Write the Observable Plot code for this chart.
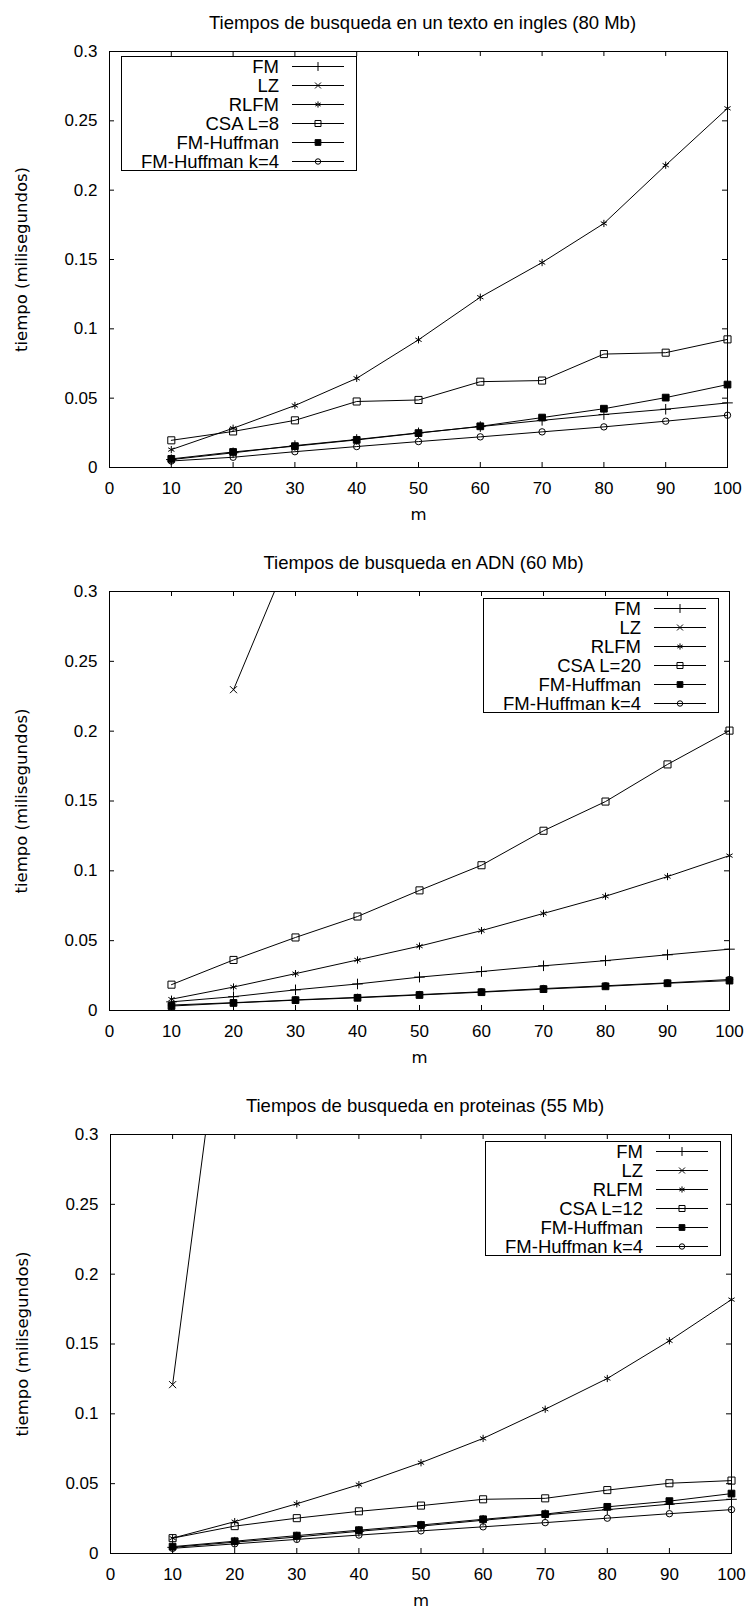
<!DOCTYPE html>
<html><head><meta charset="utf-8">
<script src="https://cdn.jsdelivr.net/npm/d3@7"></script>
<script src="https://cdn.jsdelivr.net/npm/@observablehq/plot@0.6"></script>
<style>
html,body{margin:0;padding:0;background:#fff;}
#chart svg{display:block;}
</style></head><body><div id="chart"></div>
<script>
// ---- shared axes ----
const m = [10, 20, 30, 40, 50, 60, 70, 80, 90, 100];
const xTicks = [0, 10, 20, 30, 40, 50, 60, 70, 80, 90, 100];
const xTickLabels = ["0", "10", "20", "30", "40", "50", "60", "70", "80", "90", "100"];
const yTicks = [0, 0.05, 0.1, 0.15, 0.2, 0.25, 0.3];
const yTickLabels = ["0", "0.05", "0.1", "0.15", "0.2", "0.25", "0.3"];
const xLabel = "m";
const yLabel = "tiempo (milisegundos)";

const titles = [
  "Tiempos de busqueda en un texto en ingles (80 Mb)",
  "Tiempos de busqueda en ADN (60 Mb)",
  "Tiempos de busqueda en proteinas (55 Mb)"
];
const seriesKeys = ["FM", "LZ", "RLFM", "CSA", "FM-Huffman", "FM-Huffman k=4"];
const csaLabels = ["CSA L=8", "CSA L=20", "CSA L=12"];

// ---- panel 1: texto en ingles ----
const ing_FM   = [0.0057, 0.0106, 0.0158, 0.0202, 0.0250, 0.0295, 0.0340, 0.0382, 0.0420, 0.0466];
const ing_LZ   = [null, null, null, null, null, null, null, null, null, null];
const ing_RLFM = [0.0129, 0.0283, 0.0447, 0.0643, 0.0921, 0.1228, 0.1478, 0.1760, 0.2180, 0.2590];
const ing_CSA  = [0.0196, 0.0260, 0.0340, 0.0476, 0.0487, 0.0619, 0.0627, 0.0818, 0.0828, 0.0924];
const ing_FMH  = [0.0062, 0.0112, 0.0154, 0.0199, 0.0248, 0.0297, 0.0360, 0.0424, 0.0504, 0.0598];
const ing_FMH4 = [0.0047, 0.0074, 0.0114, 0.0151, 0.0187, 0.0221, 0.0257, 0.0293, 0.0334, 0.0377];

// ---- panel 2: ADN ----
const adn_FM   = [0.0062, 0.0099, 0.0148, 0.0190, 0.0239, 0.0279, 0.0320, 0.0357, 0.0399, 0.0439];
const adn_LZ   = [null, 0.2297, 0.336, null, null, null, null, null, null, null];
const adn_RLFM = [0.0081, 0.0168, 0.0264, 0.0362, 0.0461, 0.0572, 0.0695, 0.0818, 0.0959, 0.1109];
const adn_CSA  = [0.0185, 0.0362, 0.0523, 0.0673, 0.0860, 0.1040, 0.1287, 0.1496, 0.1762, 0.2004];
const adn_FMH  = [0.0032, 0.0054, 0.0074, 0.0091, 0.0111, 0.0131, 0.0153, 0.0173, 0.0195, 0.0214];
const adn_FMH4 = [0.0039, 0.0056, 0.0076, 0.0094, 0.0114, 0.0134, 0.0157, 0.0177, 0.0198, 0.0222];

// ---- panel 3: proteinas ----
const pro_FM   = [0.0044, 0.0081, 0.0118, 0.0159, 0.0196, 0.0238, 0.0277, 0.0314, 0.0353, 0.0388];
const pro_LZ   = [0.1209, 0.46, null, null, null, null, null, null, null, null];
const pro_RLFM = [0.0110, 0.0228, 0.0356, 0.0493, 0.0650, 0.0824, 0.1033, 0.1253, 0.1523, 0.1818];
const pro_CSA  = [0.0110, 0.0196, 0.0253, 0.0302, 0.0343, 0.0388, 0.0395, 0.0454, 0.0503, 0.0522];
const pro_FMH  = [0.0049, 0.0088, 0.0128, 0.0167, 0.0204, 0.0245, 0.0282, 0.0334, 0.0375, 0.0429];
const pro_FMH4 = [0.0037, 0.0069, 0.0101, 0.0132, 0.0162, 0.0191, 0.0221, 0.0253, 0.0285, 0.0314];

const panelSeries = [
  [ing_FM, ing_LZ, ing_RLFM, ing_CSA, ing_FMH, ing_FMH4],
  [adn_FM, adn_LZ, adn_RLFM, adn_CSA, adn_FMH, adn_FMH4],
  [pro_FM, pro_LZ, pro_RLFM, pro_CSA, pro_FMH, pro_FMH4]
];

// ---- styling ----
const styles = {
  "FM":             {symbol: "plus",     d3s: d3.symbolPlus,     r: 3.5, fill: "none",  stroke: "black"},
  "LZ":             {symbol: "times",    d3s: d3.symbolTimes,    r: 3.3, fill: "none",  stroke: "black"},
  "RLFM":           {symbol: "asterisk", d3s: d3.symbolAsterisk, r: 3.4, fill: "none",  stroke: "black"},
  "CSA":            {symbol: "square2",  d3s: d3.symbolSquare2,  r: 4.5, fill: "none",  stroke: "black"},
  "FM-Huffman":     {symbol: "square",   d3s: d3.symbolSquare,   r: 3.8, fill: "black", stroke: "black"},
  "FM-Huffman k=4": {symbol: "circle",   d3s: d3.symbolCircle,   r: 3.2, fill: "none",  stroke: "black"}
};
const layouts = [
  {height: 536, marginTop: 51, marginBottom: 69, marginLeft: 109, marginRight: 23, legend: "left"},
  {height: 542, marginTop: 55, marginBottom: 68, marginLeft: 109, marginRight: 21, legend: "right"},
  {height: 531, marginTop: 56, marginBottom: 56, marginLeft: 110, marginRight: 19, legend: "right"}
];

function legendMark(labels, anchor) {
  return (index, scales, values, dim) => {
    const g = d3.create("svg:g");
    const boxW = 235, boxH = 114;
    const left = anchor === "left" ? dim.marginLeft + 12 : dim.width - dim.marginRight - 11 - boxW;
    const top = dim.marginTop + (anchor === "left" ? 5 : 7);
    g.append("rect")
      .attr("x", Math.round(left) + 0.5).attr("y", Math.round(top) + 0.5)
      .attr("width", boxW).attr("height", boxH)
      .attr("fill", "none").attr("stroke", "black").attr("stroke-width", 1);
    labels.forEach((lab, i) => {
      const st = styles[seriesKeys[i]];
      const y = top + 10.5 + i * 19;
      g.append("text")
        .attr("x", left + 158).attr("y", y).attr("dy", "0.36em")
        .attr("text-anchor", "end").attr("font-size", 18.5)
        .attr("fill", "black").text(lab);
      g.append("line")
        .attr("x1", left + 171).attr("x2", left + 223)
        .attr("y1", y).attr("y2", y)
        .attr("stroke", "black").attr("stroke-width", 1);
      const rr = st.r * 0.85;
      g.append("path")
        .attr("transform", `translate(${left + 197},${y})`)
        .attr("d", d3.symbol(st.d3s, Math.PI * rr * rr)())
        .attr("fill", st.fill).attr("stroke", st.stroke).attr("stroke-width", 1);
    });
    return g.node();
  };
}

const chart = document.getElementById("chart");

layouts.forEach((L, p) => {
  const plotW = 750 - L.marginLeft - L.marginRight;
  const plotH = L.height - L.marginTop - L.marginBottom;
  const labels = seriesKeys.map((k, i) => k === "CSA" ? csaLabels[p] : k);
  const marks = [];
  seriesKeys.forEach((key, i) => {
    const vals = panelSeries[p][i];
    const data = m.map((x, j) => ({m: x, t: vals[j]}));
    const st = styles[key];
    const clip = key === "LZ";
    marks.push(Plot.line(data, {x: "m", y: "t", stroke: "black", strokeWidth: 1, clip}));
    marks.push(Plot.dot(data, {x: "m", y: "t", symbol: st.symbol, r: st.r, fill: st.fill, stroke: st.stroke, strokeWidth: 1, clip}));
  });
  const svg = Plot.plot({
    width: 750,
    height: L.height,
    marginTop: L.marginTop,
    marginBottom: L.marginBottom,
    marginLeft: L.marginLeft,
    marginRight: L.marginRight,
    style: {fontFamily: "'Liberation Sans', Arial, sans-serif", fontSize: "17px", color: "black", background: "white"},
    x: {domain: [0, 100]},
    y: {domain: [0, 0.3]},
    marks: [
      Plot.frame({stroke: "black", strokeWidth: 1}),
      // inward ticks, mirrored on all four sides
      Plot.tickY(yTicks, {y: d => d, insetRight: plotW - 5, stroke: "black"}),
      Plot.tickY(yTicks, {y: d => d, insetLeft: plotW - 5, stroke: "black"}),
      Plot.tickX(xTicks, {x: d => d, insetTop: plotH - 5, stroke: "black"}),
      Plot.tickX(xTicks, {x: d => d, insetBottom: plotH - 5, stroke: "black"}),
      Plot.axisX({ticks: xTicks, tickFormat: (d) => xTickLabels[xTicks.indexOf(d)], tickSize: 0, tickPadding: 14, label: null, fontSize: 17}),
      Plot.axisY({ticks: yTicks, tickFormat: (d) => yTickLabels[yTicks.indexOf(d)], tickSize: 0, tickPadding: 12, label: null, fontSize: 17}),
      ...marks,
      Plot.text([titles[p]], {text: d => d, frameAnchor: "top", dy: -28.5, dx: 4, lineAnchor: "middle", textAnchor: "middle", fontSize: 18.5, fill: "black"}),
      Plot.text([xLabel], {text: d => d, frameAnchor: "bottom", dy: 47, lineAnchor: "middle", textAnchor: "middle", fontSize: 16.5, fontFamily: "'DejaVu Sans', sans-serif", fill: "black"}),
      Plot.text([yLabel], {text: d => d, frameAnchor: "left", dx: -87.5, rotate: -90, lineAnchor: "middle", textAnchor: "middle", fontSize: 16.5, fontFamily: "'DejaVu Sans', sans-serif", fill: "black"}),
      legendMark(labels, L.legend)
    ]
  });
  chart.appendChild(svg);
});
</script>
</body></html>
